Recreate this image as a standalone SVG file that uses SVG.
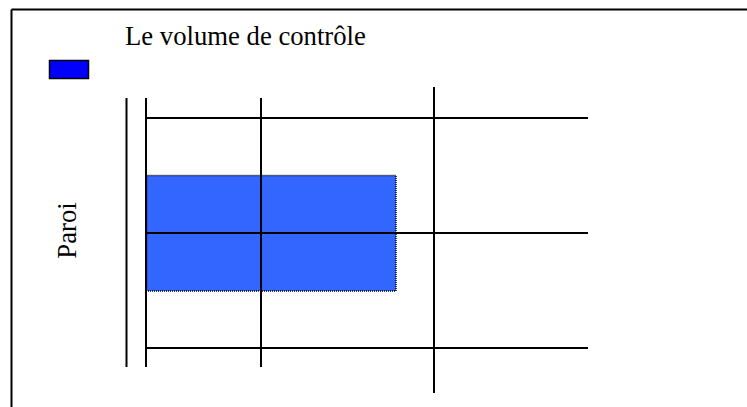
<svg xmlns="http://www.w3.org/2000/svg" width="747" height="407" viewBox="0 0 747 407">
<style>
.ln{stroke:#000;stroke-width:2;fill:none}
.t{font-family:"Liberation Serif",serif;font-size:26.7px;fill:#000}
</style>
<rect width="747" height="407" fill="#fff"/>
<g id="frame">
<line class="ln" x1="11.5" y1="9.5" x2="747" y2="9.5"/>
<line class="ln" x1="11.5" y1="9.5" x2="11.5" y2="407"/>
</g>
<g id="legend">
<rect x="49.5" y="60.5" width="39" height="18" fill="#0000FF" stroke="#000" stroke-width="1.5"/>
<text class="t" x="125" y="45">Le volume de contrôle</text>
</g>
<g id="volume">
<rect x="146.5" y="175.5" width="249.5" height="115.5" fill="#3366FF" stroke="#000" stroke-width="1.5" stroke-dasharray="1,1"/>
</g>
<g id="connectors">
<line class="ln" x1="126.5" y1="98" x2="126.5" y2="367" stroke-width="1.5"/>
<line class="ln" x1="146" y1="98" x2="146" y2="367"/>
<line class="ln" x1="261" y1="98" x2="261" y2="367"/>
<line class="ln" x1="434" y1="87" x2="434" y2="393"/>
<line class="ln" x1="146" y1="118" x2="588" y2="118"/>
<line class="ln" x1="146" y1="233" x2="588" y2="233"/>
<line class="ln" x1="146" y1="348" x2="588" y2="348"/>
</g>
<g id="paroi">
<text class="t" transform="translate(76,230.5) rotate(-90)" text-anchor="middle">Paroi</text>
</g>
</svg>
